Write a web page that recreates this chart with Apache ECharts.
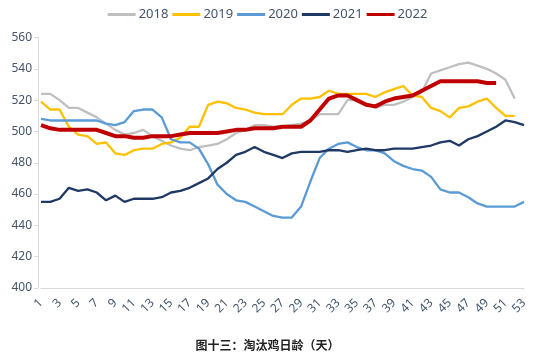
<!DOCTYPE html>
<html><head><meta charset="utf-8">
<script src="https://cdn.jsdelivr.net/npm/echarts@6/dist/echarts.min.js"></script>
<style>html,body{margin:0;padding:0;background:#fff}#c{width:535px;height:356px}</style>
</head><body><div id="c"></div>
<script>
var categories = [];
for (var k = 1; k <= 53; k++) categories.push(String(k));

var s2018 = [524,524,520,515,515,512,509,505,501,498,499,501,497,494,491,489,488,490,491,492,495,499,501,504,504,503,503,504,505,507,511,511,511,520,520,518,515,517,517,519,522,525,537,539,541,543,544,542,540,537,533,521];
var s2019 = [519,514,514,503,498,497,492,493,486,485,488,489,489,492,493,496,503,503,517,519,518,515,514,512,511,511,511,517,521,521,522,526,524,524,524,524,522,525,527,529,523,522,515,513,509,515,516,519,521,515,510,510];
var s2020 = [508,507,507,507,507,507,507,505,504,506,513,514,514,509,495,493,493,489,479,466,460,456,455,452,449,446,445,445,452,468,483,489,492,493,490,488,488,486,481,478,476,475,471,463,461,461,458,454,452,452,452,452,455];
var s2021 = [455,455,457,464,462,463,461,456,459,455,457,457,457,458,461,462,464,467,470,476,480,485,487,490,487,485,483,486,487,487,487,488,488,487,488,489,488,488,489,489,489,490,491,493,494,491,495,497,500,503,507,506,504];
var s2022 = [504,502,501,501,501,501,501,499,497,497,496,496,497,497,497,498,499,499,499,499,500,501,501,502,502,502,503,503,503,507,514,521,523,523,520,517,516,519,521,522,523,526,529,532,532,532,532,532,531,531];

var seriesNames = ['2018','2019','2020','2021','2022'];
var seriesData = [s2018, s2019, s2020, s2021, s2022];
var colors = ['#BFBFBF','#FFC000','#5B9BD5','#1F3864','#C00000'];
var widths = [2.3,2.3,2.3,2.3,4];
var titleText = '图十三：淘汰鸡日龄（天）';

var chart = echarts.init(document.getElementById('c'));
chart.setOption({
  animation: false,
  color: colors,
  textStyle: {fontFamily: 'Noto Sans, Noto Sans CJK SC'},
  title: {
    text: titleText, left: 'center', bottom: 0,
    textStyle: {fontSize: 12, fontWeight: 'bold', color: '#222', fontFamily: 'Noto Sans CJK SC'}
  },
  legend: {
    top: 3, left: 'center',
    itemWidth: 28, itemHeight: 3, itemGap: 4,
    icon: 'rect',
    textStyle: {fontSize: 13, color: '#44546A', padding: [0,0,0,-2]},
    data: seriesNames
  },
  grid: {left: 41, right: 11, top: 37.5, bottom: 68},
  xAxis: {
    type: 'category', data: categories, boundaryGap: false,
    axisLine: {lineStyle: {color: '#D9D9D9'}},
    axisTick: {show: false},
    axisLabel: {interval: 1, rotate: 45, color: '#44546A', fontSize: 12, margin: 13}
  },
  yAxis: {
    type: 'value', min: 400, max: 560, interval: 20, offset: 3,
    axisLine: {show: true, lineStyle: {color: '#D9D9D9'}},
    axisTick: {show: true, length: 4, lineStyle: {color: '#D9D9D9'}},
    splitLine: {show: false},
    axisLabel: {color: '#44546A', fontSize: 12, margin: 6}
  },
  series: seriesNames.map(function (n, i) {
    return {
      name: n, type: 'line', data: seriesData[i], showSymbol: false, symbol: 'none',
      lineStyle: {width: widths[i], color: colors[i]}, itemStyle: {color: colors[i]},
      z: i === 4 ? 10 : 2 + i
    };
  })
});
</script></body></html>
